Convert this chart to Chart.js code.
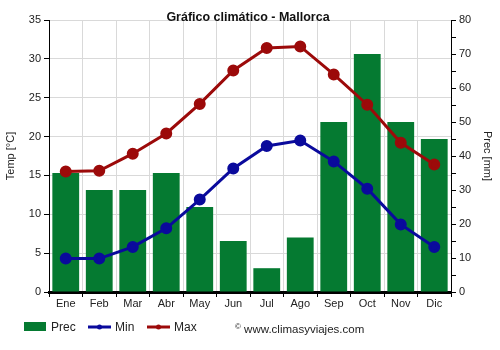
<!DOCTYPE html>
<html>
<head>
<meta charset="utf-8">
<script src="https://cdn.jsdelivr.net/npm/chart.js@4/dist/chart.umd.min.js"></script>
<style>
  html, body { margin: 0; padding: 0; background: #fff; }
  #wrap { position: relative; width: 500px; height: 350px; font-family: "Liberation Sans", Arial, sans-serif; }
  #chart { position: absolute; left: 0; top: 0; }
  #title { position: absolute; left: 0; width: 496px; top: 10px; text-align: center; font-size: 12.5px; font-weight: bold; color: #111; }
  .lg { position: absolute; top: 320px; font-size: 12px; color: #222; line-height: 14px; }
  .sw { position: absolute; }
</style>
</head>
<body>
<div id="wrap">
  <canvas id="chart" width="500" height="350"></canvas>
  <div id="title">Gráfico climático - Mallorca</div>
  <div class="sw" style="left:24px;top:322px;width:22px;height:9px;background:#057a31"></div>
  <div class="lg" style="left:51px">Prec</div>
  <svg class="sw" style="left:88px;top:321px" width="23" height="12"><line x1="0" y1="6" x2="23" y2="6" stroke="#0a0a9c" stroke-width="3"/><circle cx="11.5" cy="6" r="2.5" fill="#0a0a9c"/></svg>
  <div class="lg" style="left:115px">Min</div>
  <svg class="sw" style="left:147px;top:321px" width="23" height="12"><line x1="0" y1="6" x2="23" y2="6" stroke="#9c0a0a" stroke-width="3"/><circle cx="11.5" cy="6" r="2.5" fill="#9c0a0a"/></svg>
  <div class="lg" style="left:174px">Max</div>
  <div class="lg" style="left:235px;font-size:11.5px"><span style="font-size:8px;vertical-align:4px">©</span> www.climasyviajes.com</div>
</div>
<script>
// monthly climate data
const months = ["Ene", "Feb", "Mar", "Abr", "May", "Jun", "Jul", "Ago", "Sep", "Oct", "Nov", "Dic"];
const precMm = [35, 30, 30, 35, 25, 15, 7, 16, 50, 70, 50, 45];
const tempMin = [4.3, 4.3, 5.8, 8.2, 11.9, 15.9, 18.8, 19.5, 16.8, 13.3, 8.7, 5.8];
const tempMax = [15.5, 15.6, 17.8, 20.4, 24.2, 28.5, 31.4, 31.6, 28.0, 24.1, 19.2, 16.4];

const GREEN = "#057a31", BLUE = "#0a0a9c", RED = "#9c0a0a", GRID = "#d9d9d9", INK = "#222";
const tickFont = { family: "'Liberation Sans', Arial, sans-serif", size: 11 };

new Chart(document.getElementById("chart"), {
  data: {
    labels: months,
    datasets: [
      { type: "line", label: "Max", data: tempMax, yAxisID: "y", borderColor: RED, backgroundColor: RED,
        borderWidth: 3, pointRadius: 4.5, pointHoverRadius: 4.5, pointBackgroundColor: RED, tension: 0, order: 1 },
      { type: "line", label: "Min", data: tempMin, yAxisID: "y", borderColor: BLUE, backgroundColor: BLUE,
        borderWidth: 3, pointRadius: 4.5, pointHoverRadius: 4.5, pointBackgroundColor: BLUE, tension: 0, order: 2 },
      { type: "bar", label: "Prec", data: precMm, yAxisID: "y1", backgroundColor: GREEN,
        categoryPercentage: 1, barPercentage: 0.8, order: 3 },
    ],
  },
  options: {
    responsive: false, animation: false,
    layout: { padding: { top: 20, left: 0, right: 0, bottom: 0 } },
    plugins: { legend: { display: false }, tooltip: { enabled: false }, title: { display: false } },
    scales: {
      x: {
        offset: true,
        grid: { offset: true, color: GRID, tickColor: "#000", tickLength: 5 },
        border: { color: "#000", width: 3 },
        ticks: { color: INK, font: tickFont, padding: 0, maxRotation: 0 },
        afterFit: (s) => { s.height = 58; },
      },
      y: {
        position: "left", min: 0, max: 35,
        ticks: { stepSize: 5, color: INK, font: tickFont, padding: 3 },
        grid: { color: GRID, tickColor: "#000", tickLength: 5 },
        border: { color: "#000", width: 1 },
        title: { display: true, text: "Temp [°C]", color: INK, font: { ...tickFont, size: 11 }, padding: { top: 4, bottom: 0 } },
        afterFit: (s) => { s.width = 49; },
      },
      y1: {
        position: "right", min: 0, max: 80,
        ticks: { stepSize: 5, color: INK, font: tickFont, padding: 3,
          callback: (v) => (v % 10 === 0 ? v : "") },
        grid: { drawOnChartArea: false, tickColor: "#000", tickLength: 5 },
        border: { color: "#000", width: 1 },
        title: { display: true, text: "Prec [mm]", color: INK, font: { ...tickFont, size: 11 }, padding: { top: 6, bottom: 0 } },
        afterFit: (s) => { s.width = 49; },
      },
    },
  },
});
</script>
</body>
</html>
